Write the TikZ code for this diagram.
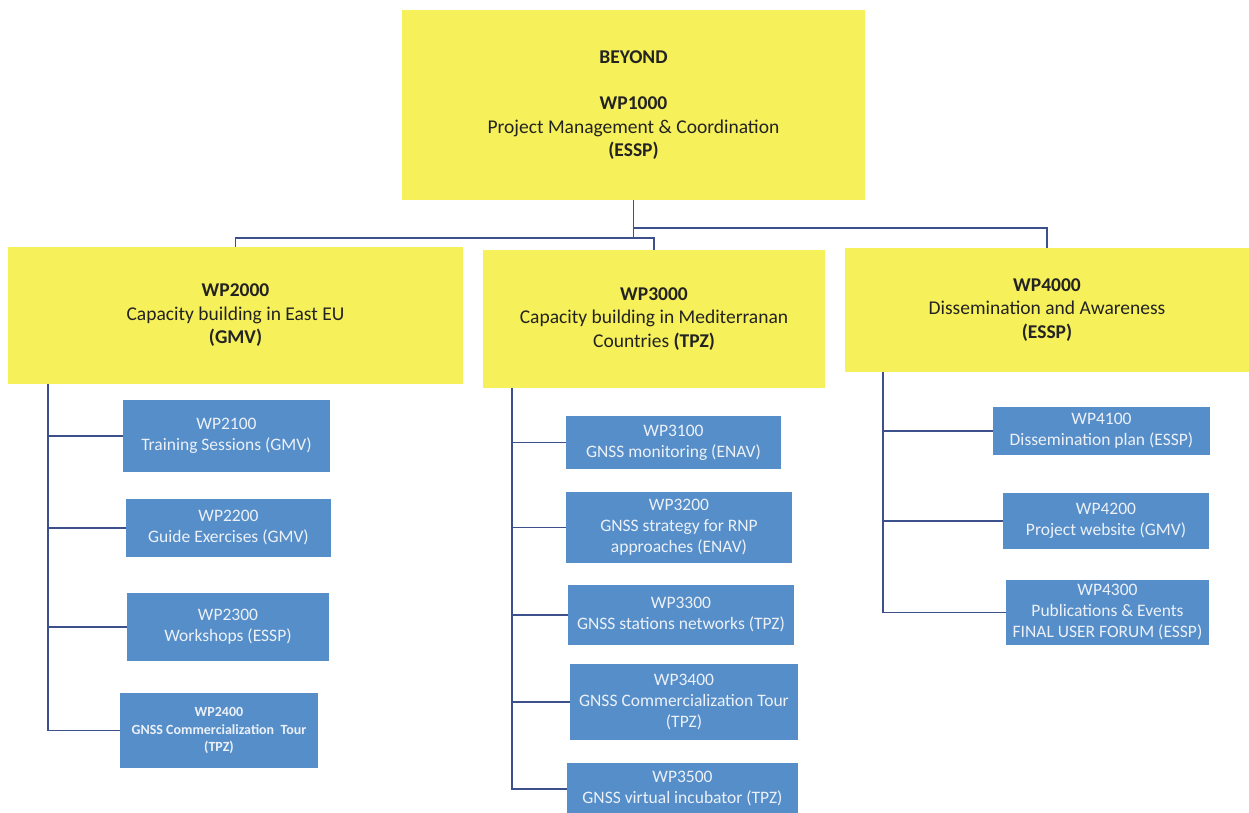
\documentclass[tikz,border=0pt]{standalone}
\usepackage{fontspec}
\setmainfont{Carlito}
\definecolor{ylw}{RGB}{246,240,90}
\definecolor{blu}{RGB}{86,142,201}
\definecolor{bluetext}{RGB}{236,241,248}
\definecolor{conncol}{RGB}{60,80,140}
\definecolor{darktext}{RGB}{35,35,35}
\tikzset{
  ybox/.style={fill=ylw, draw=none, inner sep=0pt, align=center, text=darktext, font=\fontsize{19.5}{23.5}\selectfont},
  bbox/.style={fill=blu, draw=none, inner sep=0pt, align=center, text=bluetext, font=\fontsize{17.5}{21}\selectfont},
  conn/.style={draw=conncol, line width=1.6pt},
}
\begin{document}
\begin{tikzpicture}[x=1pt,y=-1pt]
\path[use as bounding box] (0,0) rectangle (1249,812);
% yellow boxes
\node[ybox, minimum width=463pt, minimum height=190pt] (top) at (633.5,105)
  {\textbf{BEYOND}\\[23pt]\textbf{WP1000}\\Project Management \& Coordination\\\textbf{(ESSP)}};
\node[ybox, minimum width=455pt, minimum height=137pt] (wp2) at (235.5,315.5)
  {\textbf{WP2000}\\Capacity building in East EU\\\textbf{(GMV)}};
\node[ybox, minimum width=342pt, minimum height=138pt] (wp3) at (654,319)
  {\textbf{WP3000}\\Capacity building in Mediterranan\\Countries \textbf{(TPZ)}};
\node[ybox, minimum width=404pt, minimum height=124pt] (wp4) at (1047,310)
  {\textbf{WP4000}\\Dissemination and Awareness\\\textbf{(ESSP)}};
% blue boxes column 2
\node[bbox, minimum width=207pt, minimum height=72pt] (wp21) at (226.5,436) {WP2100\\Training Sessions (GMV)};
\node[bbox, minimum width=205pt, minimum height=58pt] (wp22) at (228.5,528) {WP2200\\Guide Exercises (GMV)};
\node[bbox, minimum width=202pt, minimum height=68pt] (wp23) at (228,627) {WP2300\\Workshops (ESSP)};
\node[bbox, minimum width=198pt, minimum height=75pt, font=\bfseries\fontsize{14}{17.5}\selectfont] (wp24) at (219,730.5) {WP2400\\GNSS Commercialization~~Tour\\(TPZ)};
% column 3
\node[bbox, minimum width=215pt, minimum height=53pt] (wp31) at (673.5,442.5) {WP3100\\GNSS monitoring (ENAV)};
\node[bbox, minimum width=226pt, minimum height=71pt] (wp32) at (679,527.5) {WP3200\\GNSS strategy for RNP\\approaches (ENAV)};
\node[bbox, minimum width=226pt, minimum height=60pt] (wp33) at (681,615) {WP3300\\GNSS stations networks (TPZ)};
\node[bbox, minimum width=228pt, minimum height=76pt] (wp34) at (684,702) {WP3400\\GNSS Commercialization Tour\\(TPZ)};
\node[bbox, minimum width=231pt, minimum height=52pt] (wp35) at (682.5,789) {WP3500\\GNSS virtual incubator (TPZ)};
% column 4
\node[bbox, minimum width=217pt, minimum height=48pt] (wp41) at (1101.5,431) {WP4100\\Dissemination plan (ESSP)};
\node[bbox, minimum width=206pt, minimum height=56pt] (wp42) at (1106,521) {WP4200\\Project website (GMV)};
\node[bbox, minimum width=203pt, minimum height=65pt] (wp43) at (1107.5,612.5) {WP4300\\Publications \& Events\\FINAL USER FORUM (ESSP)};
% top connectors
\draw[conn] (top.south) -- ++(0,38) coordinate (j1) -| (wp2.north);
\draw[conn] (j1) -| (wp3.north);
\draw[conn] (top.south) ++(0,28) coordinate (j2) -| (wp4.north);
\draw[conn] (top.south) -- (j2);
% column 2 connectors
\coordinate (t2) at ([xshift=40pt]wp2.south west);
\draw[conn] (t2) |- (wp24.west);
\foreach \c in {wp21,wp22,wp23} \draw[conn] (t2 |- \c.west) -- (\c.west);
% column 3 connectors
\coordinate (t3) at ([xshift=29pt]wp3.south west);
\draw[conn] (t3) |- (wp35.west);
\foreach \c in {wp31,wp32,wp33,wp34} \draw[conn] (t3 |- \c.west) -- (\c.west);
% column 4 connectors
\coordinate (t4) at ([xshift=38pt]wp4.south west);
\draw[conn] (t4) |- (wp43.west);
\foreach \c in {wp41,wp42} \draw[conn] (t4 |- \c.west) -- (\c.west);
\end{tikzpicture}
\end{document}
